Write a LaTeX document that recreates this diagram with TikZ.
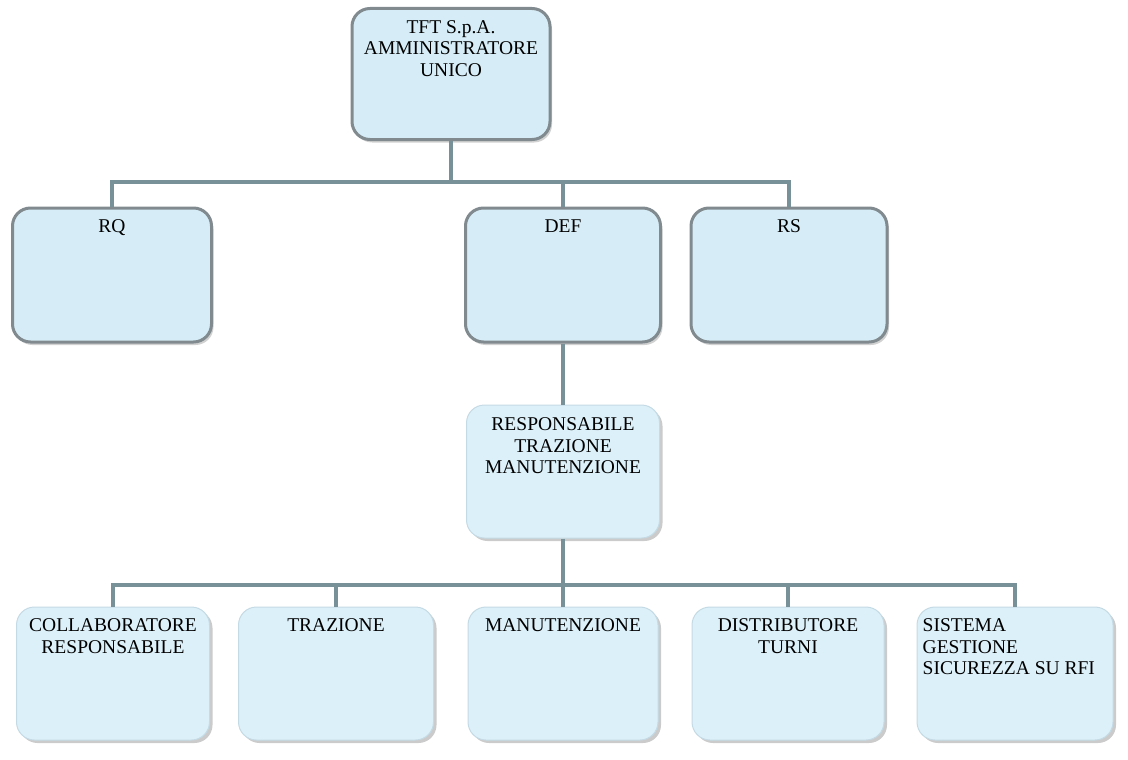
\documentclass[tikz,border=0pt]{standalone}
\usepackage{fontspec}
\setmainfont{Liberation Serif}
\usetikzlibrary{shadows}
\definecolor{boxfill}{RGB}{214,237,247}
\definecolor{boxfillb}{RGB}{220,240,249}
\definecolor{boxedge}{RGB}{128,138,143}
\definecolor{boxedgeb}{RGB}{196,218,228}
\definecolor{conncol}{RGB}{120,145,152}
\tikzset{
  boxa/.style={draw=boxedge, line width=3pt, fill=boxfill, rounded corners=18pt,
    drop shadow={shadow xshift=2pt, shadow yshift=-3pt, fill=black!40, opacity=.45}},
  boxb/.style={draw=boxedgeb, line width=1pt, fill=boxfillb, rounded corners=18pt,
    drop shadow={shadow xshift=3pt, shadow yshift=-3pt, fill=black!45, opacity=.45}},
  lbl/.style={inner sep=0pt, font=\fontsize{19.5}{21.5}\selectfont, align=center, anchor=north},
  conn/.style={draw=conncol, line width=4pt, line join=miter}
}
\begin{document}
\begin{tikzpicture}[x=1pt, y=-1pt]
\useasboundingbox (0,0) rectangle (1128,760);
% bus coordinates
\coordinate (b1) at (451,182);
\coordinate (b2) at (563,585);
% boxes
\node[boxa, minimum width=198pt, minimum height=131pt] (top) at (451,74) {};
\node[boxa, minimum width=199pt, minimum height=134pt] (rq) at (112,275) {};
\node[boxa, minimum width=195pt, minimum height=134pt] (def) at (563,275) {};
\node[boxa, minimum width=196pt, minimum height=134pt] (rs) at (789,275) {};
\node[boxb, minimum width=193pt, minimum height=133pt] (rtm) at (563,471.5) {};
\node[boxb, minimum width=193pt, minimum height=133pt] (col) at (113,673.5) {};
\node[boxb, minimum width=195pt, minimum height=133pt] (tra) at (336,673.5) {};
\node[boxb, minimum width=190pt, minimum height=133pt] (man) at (563,673.5) {};
\node[boxb, minimum width=192pt, minimum height=133pt] (dis) at (788,673.5) {};
\node[boxb, minimum width=196pt, minimum height=133pt] (sis) at (1015,673.5) {};
% connectors
\draw[conn] (top.south) -- (b1);
\draw[conn] (b1) -| (rq.north);
\draw[conn] (b1) -| (def.north);
\draw[conn] (b1) -| (rs.north);
\draw[conn] (def.south) -- (rtm.north);
\draw[conn] (rtm.south) -- (b2);
\draw[conn] (b2) -| (col.north);
\draw[conn] (b2) -| (tra.north);
\draw[conn] (b2) -- (man.north);
\draw[conn] (b2) -| (dis.north);
\draw[conn] (b2) -| (sis.north);
% labels
\node[lbl] (ttop) at ([yshift=-13pt]top.north) {TFT S.p.A.\\AMMINISTRATORE\\UNICO};
\node[lbl] (trq) at ([yshift=-13pt]rq.north) {RQ};
\node[lbl] (tdef) at ([yshift=-13pt]def.north) {DEF};
\node[lbl] (trs) at ([yshift=-13pt]rs.north) {RS};
\node[lbl] (trtm) at ([yshift=-13pt]rtm.north) {RESPONSABILE\\TRAZIONE\\MANUTENZIONE};
\node[lbl] (tcol) at ([yshift=-12pt]col.north) {COLLABORATORE\\RESPONSABILE};
\node[lbl] (ttra) at ([yshift=-12pt]tra.north) {TRAZIONE};
\node[lbl] (tman) at ([yshift=-12pt]man.north) {MANUTENZIONE};
\node[lbl] (tdis) at ([yshift=-12pt]dis.north) {DISTRIBUTORE\\TURNI};
\node[lbl, anchor=north west, align=left] (tsis) at ([xshift=6pt,yshift=-12pt]sis.north west) {SISTEMA\\GESTIONE\\SICUREZZA SU RFI};
\end{tikzpicture}
\end{document}
